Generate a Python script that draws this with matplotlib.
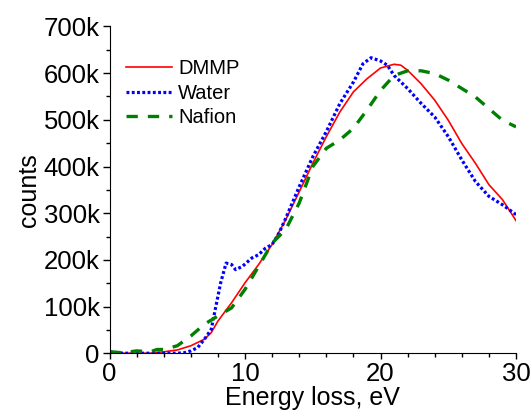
import matplotlib
matplotlib.use('Agg')
import matplotlib.pyplot as plt
from matplotlib.ticker import MultipleLocator, FuncFormatter
import numpy as np

plt.rcParams['font.family'] = ['Liberation Sans', 'DejaVu Sans']

# energy loss (eV) and counts
dmmp_x = [0, 1, 2, 3, 4, 5, 6, 6.5, 7, 7.5, 8, 9, 10, 11, 12, 13, 14, 15, 16, 17, 18,
          19, 20, 20.5, 21, 21.5, 22, 23, 24, 25, 26, 27, 28, 29, 30]
dmmp_y = [2e3, 0, 0, 0, 3e3, 7e3, 16e3, 23e3, 30e3, 44e3, 69e3, 108e3, 151e3, 190e3, 233e3,
          286e3, 346e3, 407e3, 464e3, 517e3, 560e3, 588e3, 611e3, 615e3, 619e3, 617e3,
          606e3, 577e3, 542e3, 499e3, 449e3, 407e3, 361e3, 329e3, 284e3]

water_x = [0, 1, 2, 3, 4, 5, 5.5, 6, 6.5, 7, 7.5, 7.8, 8.2, 8.6, 9, 9.3, 9.8, 10.5, 11,
           11.5, 12, 12.5, 13, 14, 15, 16, 17, 18, 18.7, 19.3, 20, 20.5, 21, 22, 23, 24,
           25, 26, 27, 28, 29, 30]
water_y = [3e3, 0, 0, 0, 0, 0, 1e3, 5e3, 12e3, 30e3, 51e3, 94e3, 151e3, 193e3, 190e3,
           179e3, 186e3, 204e3, 211e3, 225e3, 233e3, 257e3, 289e3, 357e3, 421e3, 475e3,
           535e3, 581e3, 620e3, 633e3, 626e3, 617e3, 595e3, 567e3, 535e3, 506e3, 464e3,
           414e3, 368e3, 336e3, 318e3, 297e3]

nafion_x = [0, 1, 2, 3, 3.5, 4, 5, 6, 7, 8, 9, 10, 11, 12, 13, 14, 15, 16, 17, 18, 19,
            20, 21, 22, 23, 24, 25, 26, 27, 28, 29, 30]
nafion_y = [3e3, 1e3, 5e3, 3e3, 8e3, 8e3, 16e3, 37e3, 62e3, 80e3, 97e3, 137e3, 186e3,
            236e3, 265e3, 322e3, 400e3, 439e3, 457e3, 482e3, 521e3, 563e3, 595e3, 605e3,
            605e3, 599e3, 585e3, 567e3, 549e3, 524e3, 499e3, 485e3]

fig = plt.figure(figsize=(5.32, 4.2), dpi=100)
ax = fig.add_axes([0.206, 0.159, 0.764, 0.778])

ax.plot(dmmp_x, dmmp_y, color='red', lw=1.2, label='DMMP')
ax.plot(water_x, water_y, color='blue', lw=2.3, linestyle=(0, (0.9, 0.75)), label='Water')
ax.plot(nafion_x, nafion_y, color='green', lw=2.4, linestyle=(0, (3.4, 3.0)), label='Nafion')

ax.set_xlim(0, 30)
ax.set_ylim(0, 700e3)
ax.spines['top'].set_visible(False)
ax.spines['right'].set_visible(False)
ax.xaxis.set_major_locator(MultipleLocator(10))
ax.xaxis.set_minor_locator(MultipleLocator(2))
ax.yaxis.set_major_locator(MultipleLocator(100e3))
ax.yaxis.set_minor_locator(MultipleLocator(50e3))
ax.yaxis.set_major_formatter(FuncFormatter(lambda v, p: '0' if v == 0 else '%dk' % (v / 1000)))
ax.tick_params(axis='both', which='major', labelsize=18.5, length=5, width=1, direction='out', pad=2)
ax.tick_params(axis='both', which='minor', length=3, width=1, direction='out')
ax.tick_params(axis='x', which='major', length=4)

ax.set_xlabel('Energy loss, eV', fontsize=18, labelpad=0)
ax.set_ylabel('counts', fontsize=18, labelpad=2)

ax.legend(loc='upper left', bbox_to_anchor=(0.02, 0.925), frameon=False, fontsize=14.5,
          handlelength=2.3, handletextpad=0.3, labelspacing=0.28, borderaxespad=0)

fig.savefig('out.png', dpi=100)
